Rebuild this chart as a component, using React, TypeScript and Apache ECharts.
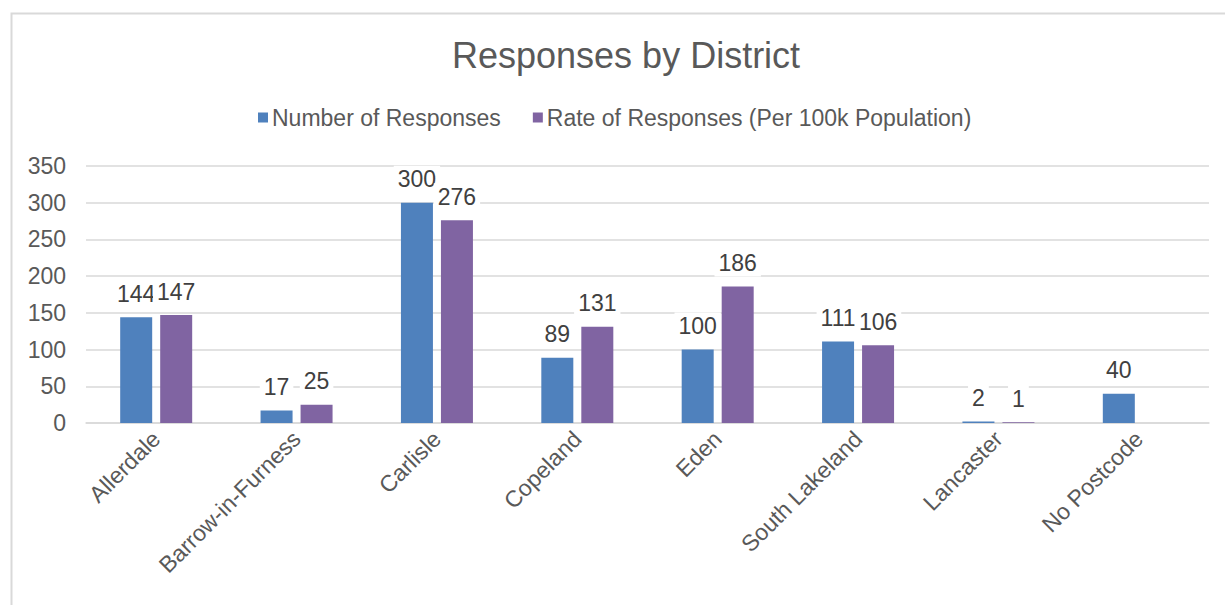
import React, { useEffect, useRef } from "react";
import * as echarts from "echarts";

const categories = ["Allerdale", "Barrow-in-Furness", "Carlisle", "Copeland", "Eden", "South Lakeland", "Lancaster", "No Postcode"];
const numberOfResponses = [144, 17, 300, 89, 100, 111, 2, 40];
const rateOfResponses: (number | null)[] = [147, 25, 276, 131, 186, 106, 1, null];
const seriesNames = ["Number of Responses", "Rate of Responses (Per 100k Population)"];

const FONT = "'Liberation Sans', Arial, sans-serif";
const TXT = "#595959";

export default function App() {
  const ref = useRef<HTMLDivElement>(null);
  useEffect(() => {
    if (!ref.current) return;
    const chart = echarts.init(ref.current, undefined, { renderer: "svg" });
    const label = {
      show: true,
      position: "top" as const,
      distance: 10,
      color: "#404040",
      fontSize: 23,
      fontFamily: FONT,
      backgroundColor: "#ffffff",
      padding: [2, 4],
    };
    chart.setOption({
      animation: false,
      backgroundColor: "#ffffff",
      textStyle: { fontFamily: FONT },
      graphic: [
        {
          type: "rect",
          shape: { x: 11.5, y: 13.5, width: 1300, height: 700 },
          style: { fill: "none", stroke: "#d9d9d9", lineWidth: 2 },
          silent: true,
          z: -1,
        },
      ],
      title: {
        text: "Responses by District",
        left: 447,
        top: 32,
        textStyle: { fontSize: 36, fontWeight: "normal", color: TXT, fontFamily: FONT },
      },
      legend: {
        top: 101,
        left: 253,
        itemWidth: 10,
        itemHeight: 10,
        itemGap: 32,
        icon: "rect",
        textStyle: { fontSize: 23, color: TXT, fontFamily: FONT, padding: [0, 0, 0, -1] },
        data: seriesNames,
      },
      grid: { left: 86, right: 16, top: 166, bottom: 182, containLabel: false },
      xAxis: {
        type: "category",
        data: categories,
        axisLine: { lineStyle: { color: "#d9d9d9", width: 1.5 } },
        axisTick: { show: false },
        axisLabel: {
          rotate: 45,
          fontSize: 23,
          color: TXT,
          fontFamily: FONT,
          margin: 12,
          interval: 0,
        },
      },
      yAxis: {
        type: "value",
        min: 0,
        max: 350,
        interval: 50,
        axisLine: { show: false },
        axisTick: { show: false },
        splitLine: { lineStyle: { color: "#d9d9d9", width: 1.5 } },
        axisLabel: { fontSize: 23, color: TXT, fontFamily: FONT, margin: 20 },
      },
      series: [
        {
          name: seriesNames[0],
          type: "bar",
          data: numberOfResponses,
          barWidth: 32,
          barGap: "25%",
          itemStyle: { color: "#4F81BD" },
          label,
        },
        {
          name: seriesNames[1],
          type: "bar",
          data: rateOfResponses,
          barWidth: 32,
          itemStyle: { color: "#8064A2" },
          label,
        },
      ],
    });
    return () => chart.dispose();
  }, []);
  return (
    <div
      ref={ref}
      style={{ position: "absolute", left: 0, top: 0, width: 1225, height: 605 }}
    />
  );
}
